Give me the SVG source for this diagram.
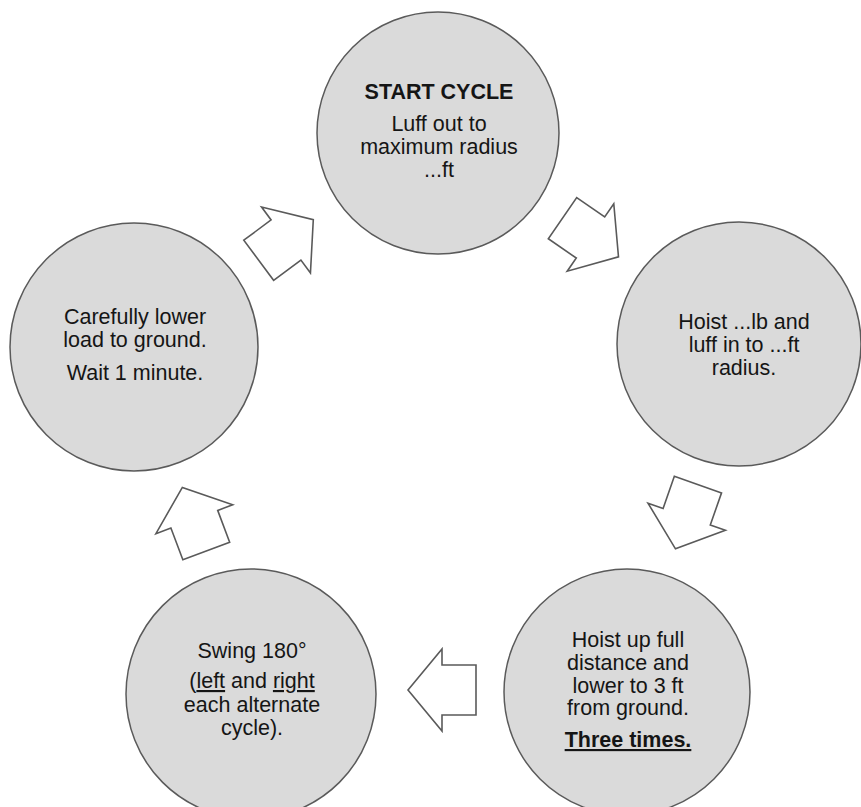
<svg xmlns="http://www.w3.org/2000/svg" width="861" height="807" viewBox="0 0 861 807">
  <style>
    .step { fill: #dadada; stroke: #5a5a5a; stroke-width: 1.5; }
    .arrow { fill: #ffffff; stroke: #5a5a5a; stroke-width: 1.6; stroke-linejoin: miter; }
    text { font-family: "Liberation Sans", Arial, sans-serif; font-size: 21.5px; fill: #151515; text-anchor: middle; }
    .b { font-weight: bold; }
    .u { text-decoration: underline; }
  </style>
  <defs>
    <!-- block arrow pointing along +x, centred on the head base -->
    <path id="blockArrow" d="M-34,-25 H0 V-41 L34,0 L0,41 V25 H-34 Z"/>
  </defs>

  <rect width="861" height="807" fill="#ffffff"/>

  <g id="connectors">
    <use href="#blockArrow" class="arrow" transform="translate(590.5,237.5) rotate(34.6)"/>
    <use href="#blockArrow" class="arrow" transform="translate(686.7,516.7) rotate(109.3)"/>
    <use href="#blockArrow" class="arrow" transform="translate(442,690) rotate(180)"/>
    <use href="#blockArrow" class="arrow" transform="translate(194.3,519.2) rotate(-110.6)"/>
    <use href="#blockArrow" class="arrow" transform="translate(286,240) rotate(-36.6)"/>
  </g>

  <g id="start-cycle">
    <circle class="step" cx="438" cy="133" r="121"/>
    <text x="439" y="99" class="b">START CYCLE</text>
    <text x="439" y="131">Luff out to</text>
    <text x="439" y="154">maximum radius</text>
    <text x="439" y="177">...ft</text>
  </g>

  <g id="hoist-luff-in">
    <circle class="step" cx="739" cy="344" r="122"/>
    <text x="744" y="329">Hoist ...lb and</text>
    <text x="744" y="352">luff in to ...ft</text>
    <text x="744" y="375">radius.</text>
  </g>

  <g id="hoist-three-times">
    <circle class="step" cx="627" cy="692" r="123"/>
    <text x="628" y="647">Hoist up full</text>
    <text x="628" y="670">distance and</text>
    <text x="628" y="693">lower to 3 ft</text>
    <text x="628" y="715">from ground.</text>
    <text x="628" y="747" class="b u">Three times.</text>
  </g>

  <g id="swing">
    <circle class="step" cx="251" cy="694" r="125"/>
    <text x="252" y="658">Swing 180°</text>
    <text x="252" y="688">(<tspan class="u">left</tspan> and <tspan class="u">right</tspan></text>
    <text x="252" y="712">each alternate</text>
    <text x="252" y="735">cycle).</text>
  </g>

  <g id="lower-load">
    <circle class="step" cx="134" cy="347" r="124"/>
    <text x="135" y="324">Carefully lower</text>
    <text x="135" y="347">load to ground.</text>
    <text x="135" y="380">Wait 1 minute.</text>
  </g>
</svg>
